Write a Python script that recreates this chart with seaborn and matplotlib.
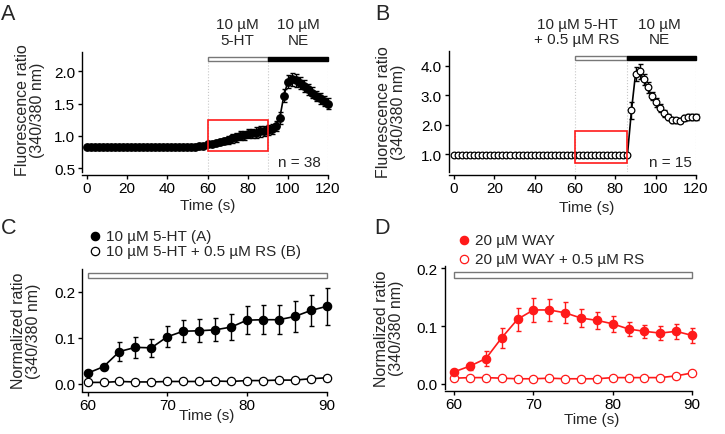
import matplotlib
matplotlib.use('Agg')
import matplotlib.pyplot as plt
from matplotlib.patches import Rectangle
from matplotlib.ticker import FormatStrFormatter
import seaborn as sns

# ---- data ----
time_ab = list(range(0, 121, 2))

ratio_a = [0.83] * 28 + [0.84, 0.85,
           0.87, 0.88, 0.89, 0.91, 0.92, 0.94, 0.96, 0.98, 1.00, 1.01, 1.03, 1.04, 1.05, 1.07, 1.08, 1.09,
           1.11, 1.15, 1.28, 1.62, 1.84, 1.88, 1.86, 1.82, 1.77, 1.72, 1.67, 1.62, 1.58, 1.54, 1.50]
err_a = [0.01] * 30 + [0.02, 0.02, 0.03, 0.04, 0.05, 0.06, 0.07, 0.07, 0.07, 0.07, 0.07, 0.07, 0.08, 0.08, 0.08, 0.08,
                       0.08, 0.08, 0.09, 0.10, 0.10, 0.10, 0.10, 0.09, 0.09, 0.09, 0.08, 0.08, 0.08, 0.08, 0.08]

ratio_b = [0.98] * 44 + [2.49, 3.73, 3.82, 3.54, 3.27, 2.98, 2.76, 2.57, 2.39, 2.26, 2.17, 2.15, 2.14,
                         2.22, 2.25, 2.26, 2.27]
err_b = [0.02] * 44 + [0.30, 0.25, 0.25, 0.20, 0.18, 0.15, 0.14, 0.13, 0.12, 0.10, 0.10, 0.09, 0.09,
                       0.10, 0.10, 0.10, 0.10]

time_cd = list(range(60, 91, 2))
norm_5ht = [0.023, 0.037, 0.070, 0.079, 0.078, 0.102, 0.114, 0.115, 0.117, 0.123, 0.138, 0.139, 0.139,
            0.146, 0.159, 0.168]
err_5ht = [0.004, 0.005, 0.020, 0.022, 0.020, 0.023, 0.024, 0.025, 0.025, 0.028, 0.030, 0.032, 0.032,
           0.034, 0.034, 0.040]
norm_5ht_rs = [0.003, 0.003, 0.005, 0.004, 0.004, 0.005, 0.005, 0.005, 0.006, 0.005, 0.007, 0.007, 0.008,
               0.008, 0.011, 0.013]

norm_way = [0.021, 0.031, 0.044, 0.080, 0.112, 0.128, 0.128, 0.123, 0.114, 0.110, 0.104, 0.095, 0.091,
            0.088, 0.091, 0.084]
err_way = [0.003, 0.007, 0.013, 0.017, 0.020, 0.021, 0.019, 0.018, 0.016, 0.015, 0.014, 0.012, 0.011,
           0.012, 0.013, 0.013]
norm_way_rs = [0.010, 0.011, 0.011, 0.010, 0.009, 0.009, 0.010, 0.009, 0.009, 0.009, 0.011, 0.011, 0.011,
               0.011, 0.014, 0.019]

# stimulus periods: (start, duration)
stim_a_white = [(60, 30)]
stim_a_black = [(90, 30)]
stim_b_white = [(60, 26)]
stim_b_black = [(86, 34)]
edges_a = [60, 90, 120]
edges_b = [60, 86, 120]

RED = '#ff1a1a'
FS = 11

sns.set_style('ticks')
plt.rcParams['font.family'] = ['Liberation Sans', 'DejaVu Sans']
plt.rcParams['font.size'] = FS
plt.rcParams['axes.linewidth'] = 1.0
plt.rcParams['xtick.major.size'] = 3
plt.rcParams['ytick.major.size'] = 3
plt.rcParams['xtick.major.width'] = 1.0
plt.rcParams['ytick.major.width'] = 1.0
plt.rcParams['xtick.major.pad'] = 1.2
plt.rcParams['ytick.major.pad'] = 2

W, H = 725, 435
fig = plt.figure(figsize=(7.25, 4.35), dpi=100)


def make_axes(left, top, right, bottom):
    return fig.add_axes([left / W, 1 - bottom / H, (right - left) / W, (bottom - top) / H])


def style(ax):
    sns.despine(ax=ax)
    ax.tick_params(colors='black', labelsize=FS)
    ax.yaxis.set_major_formatter(FormatStrFormatter('%.1f'))
    for s in ['left', 'bottom']:
        ax.spines[s].set_color('black')


def trace(ax, x, y, err=None, color='black', fill='black', ms=4.5):
    if err is not None:
        ax.errorbar(x, y, yerr=err, fmt='none', ecolor=color, elinewidth=1.0, capsize=1.8,
                    capthick=1.0, zorder=2, clip_on=False)
    sns.lineplot(x=x, y=y, ax=ax, color=color, lw=1.2, marker='o', markersize=ms,
                 markerfacecolor=fill, markeredgecolor=color, markeredgewidth=0.9,
                 errorbar=None, zorder=3, clip_on=False)


def stim_bar(ax, white, black, yc, h):
    tr = ax.get_xaxis_transform()
    for x0, d in white:
        ax.add_patch(Rectangle((x0, yc - h / 2), d, h, transform=tr, facecolor='white',
                               edgecolor='#777777', lw=1.0, clip_on=False, zorder=4))
    for x0, d in black:
        ax.add_patch(Rectangle((x0, yc - h / 2), d, h, transform=tr, facecolor='black',
                               edgecolor='black', lw=1.0, clip_on=False, zorder=4))


def key(px, py, label, color, fill):
    # legend entry placed in figure pixels
    fig.add_artist(plt.Line2D([px / W], [1 - py / H], transform=fig.transFigure, ls='none',
                              marker='o', ms=6, color=color, mfc=fill, mec=color, mew=0.9))
    fig.text((px + 11) / W, 1 - py / H, label, ha='left', va='center', fontsize=FS)


# ---------- A ----------
axA = make_axes(82, 53, 328, 173)
trace(axA, time_ab, ratio_a, err_a, ms=5.4)
axA.set_xlim(-2.5, 120)
axA.set_ylim(0.44, 2.30)
axA.set_xticks([0, 20, 40, 60, 80, 100, 120])
axA.set_yticks([0.5, 1.0, 1.5, 2.0])
style(axA)
axA.spines['bottom'].set_position(('outward', 2.5))
stim_bar(axA, stim_a_white, stim_a_black, 0.942, 0.038)
axA.vlines(edges_a, 0, 0.92, transform=axA.get_xaxis_transform(), colors='#c8c8c8',
           linestyles=':', lw=0.8, zorder=0)
axA.add_patch(Rectangle((60, 0.77), 30, 0.48, facecolor='none', edgecolor=RED, lw=1.2, zorder=5))
axA.text(116.5, 0.083, 'n = 38', transform=axA.get_xaxis_transform(), ha='right', va='center')
axA.text(75, 1.167, '10 µM\n5-HT', transform=axA.get_xaxis_transform(), ha='center', va='center',
         linespacing=1.1)
axA.text(105, 1.167, '10 µM\nNE', transform=axA.get_xaxis_transform(), ha='center', va='center',
         linespacing=1.1)
axA.set_xlabel('Time (s)', fontsize=FS)
axA.set_ylabel('Fluorescence ratio\n(340/380 nm)', fontsize=11.5, linespacing=0.98)
axA.xaxis.set_label_coords(0.51, -0.215)
axA.yaxis.set_label_coords(-0.15, 0.52)

# ---------- B ----------
axB = make_axes(449, 52, 696, 173)
trace(axB, time_ab, ratio_b, err_b, fill='white', ms=4.8)
axB.set_xlim(-2.5, 120)
axB.set_ylim(0.39, 4.51)
axB.set_xticks([0, 20, 40, 60, 80, 100, 120])
axB.set_yticks([1.0, 2.0, 3.0, 4.0])
style(axB)
axB.spines['bottom'].set_position(('outward', 2.5))
stim_bar(axB, stim_b_white, stim_b_black, 0.942, 0.038)
axB.vlines(edges_b, 0, 0.92, transform=axB.get_xaxis_transform(), colors='#c8c8c8',
           linestyles=':', lw=0.8, zorder=0)
axB.add_patch(Rectangle((60, 0.71), 26, 1.09, facecolor='none', edgecolor=RED, lw=1.2, zorder=5))
axB.text(118, 0.083, 'n = 15', transform=axB.get_xaxis_transform(), ha='right', va='center')
axB.text(61, 1.16, '10 µM 5-HT\n+ 0.5 µM RS', transform=axB.get_xaxis_transform(), ha='center',
         va='center', linespacing=1.1)
axB.text(102, 1.16, '10 µM\nNE', transform=axB.get_xaxis_transform(), ha='center', va='center',
         linespacing=1.1)
axB.set_xlabel('Time (s)', fontsize=FS)
axB.set_ylabel('Fluorescence ratio\n(340/380 nm)', fontsize=11.5, linespacing=0.98)
axB.xaxis.set_label_coords(0.559, -0.235)
axB.yaxis.set_label_coords(-0.175, 0.5)

# ---------- C ----------
axC = make_axes(82, 270, 326.7, 391.7)
trace(axC, time_cd, norm_5ht_rs, None, fill='white', ms=6.0)
trace(axC, time_cd, norm_5ht, err_5ht, ms=6.0)
axC.set_xlim(59.3, 90)
axC.set_ylim(-0.015, 0.249)
axC.set_xticks([60, 70, 80, 90])
axC.set_yticks([0.0, 0.1, 0.2])
style(axC)
axC.spines['bottom'].set_position(('outward', 1))
stim_bar(axC, [(60, 30)], [], 0.945, 0.041)
key(95, 237.3, '10 µM 5-HT (A)', 'black', 'black')
key(95, 251.7, '10 µM 5-HT + 0.5 µM RS (B)', 'black', 'white')
axC.set_xlabel('Time (s)', fontsize=FS)
axC.set_ylabel('Normalized ratio\n(340/380 nm)', fontsize=11.5, linespacing=0.98)
axC.xaxis.set_label_coords(0.51, -0.14)
axC.yaxis.set_label_coords(-0.168, 0.5)

# ---------- D ----------
axD = make_axes(444.7, 267, 692, 390)
trace(axD, time_cd, norm_way_rs, None, color=RED, fill='white', ms=6.0)
trace(axD, time_cd, norm_way, err_way, color=RED, fill=RED, ms=6.0)
axD.set_xlim(58.8, 90)
axD.set_ylim(-0.0087, 0.204)
axD.set_xticks([60, 70, 80, 90])
axD.set_yticks([0.0, 0.1, 0.2])
style(axD)
axD.spines['bottom'].set_position(('outward', 1.5))
stim_bar(axD, [(60, 30)], [], 0.927, 0.041)
key(464, 240.7, '20 µM WAY', RED, RED)
key(464, 260, '20 µM WAY + 0.5 µM RS', RED, 'white')
axD.set_xlabel('Time (s)', fontsize=FS)
axD.set_ylabel('Normalized ratio\n(340/380 nm)', fontsize=11.5, linespacing=0.98)
axD.xaxis.set_label_coords(0.596, -0.185)
axD.yaxis.set_label_coords(-0.165, 0.5)

# panel letters
for lab, (px, py) in zip('ABCD', [(8.5, 14), (382, 14), (9, 229), (382, 229)]):
    fig.text(px / W, 1 - py / H, lab, fontsize=15.5, ha='center', va='center')

fig.savefig('out.png', dpi=100)
